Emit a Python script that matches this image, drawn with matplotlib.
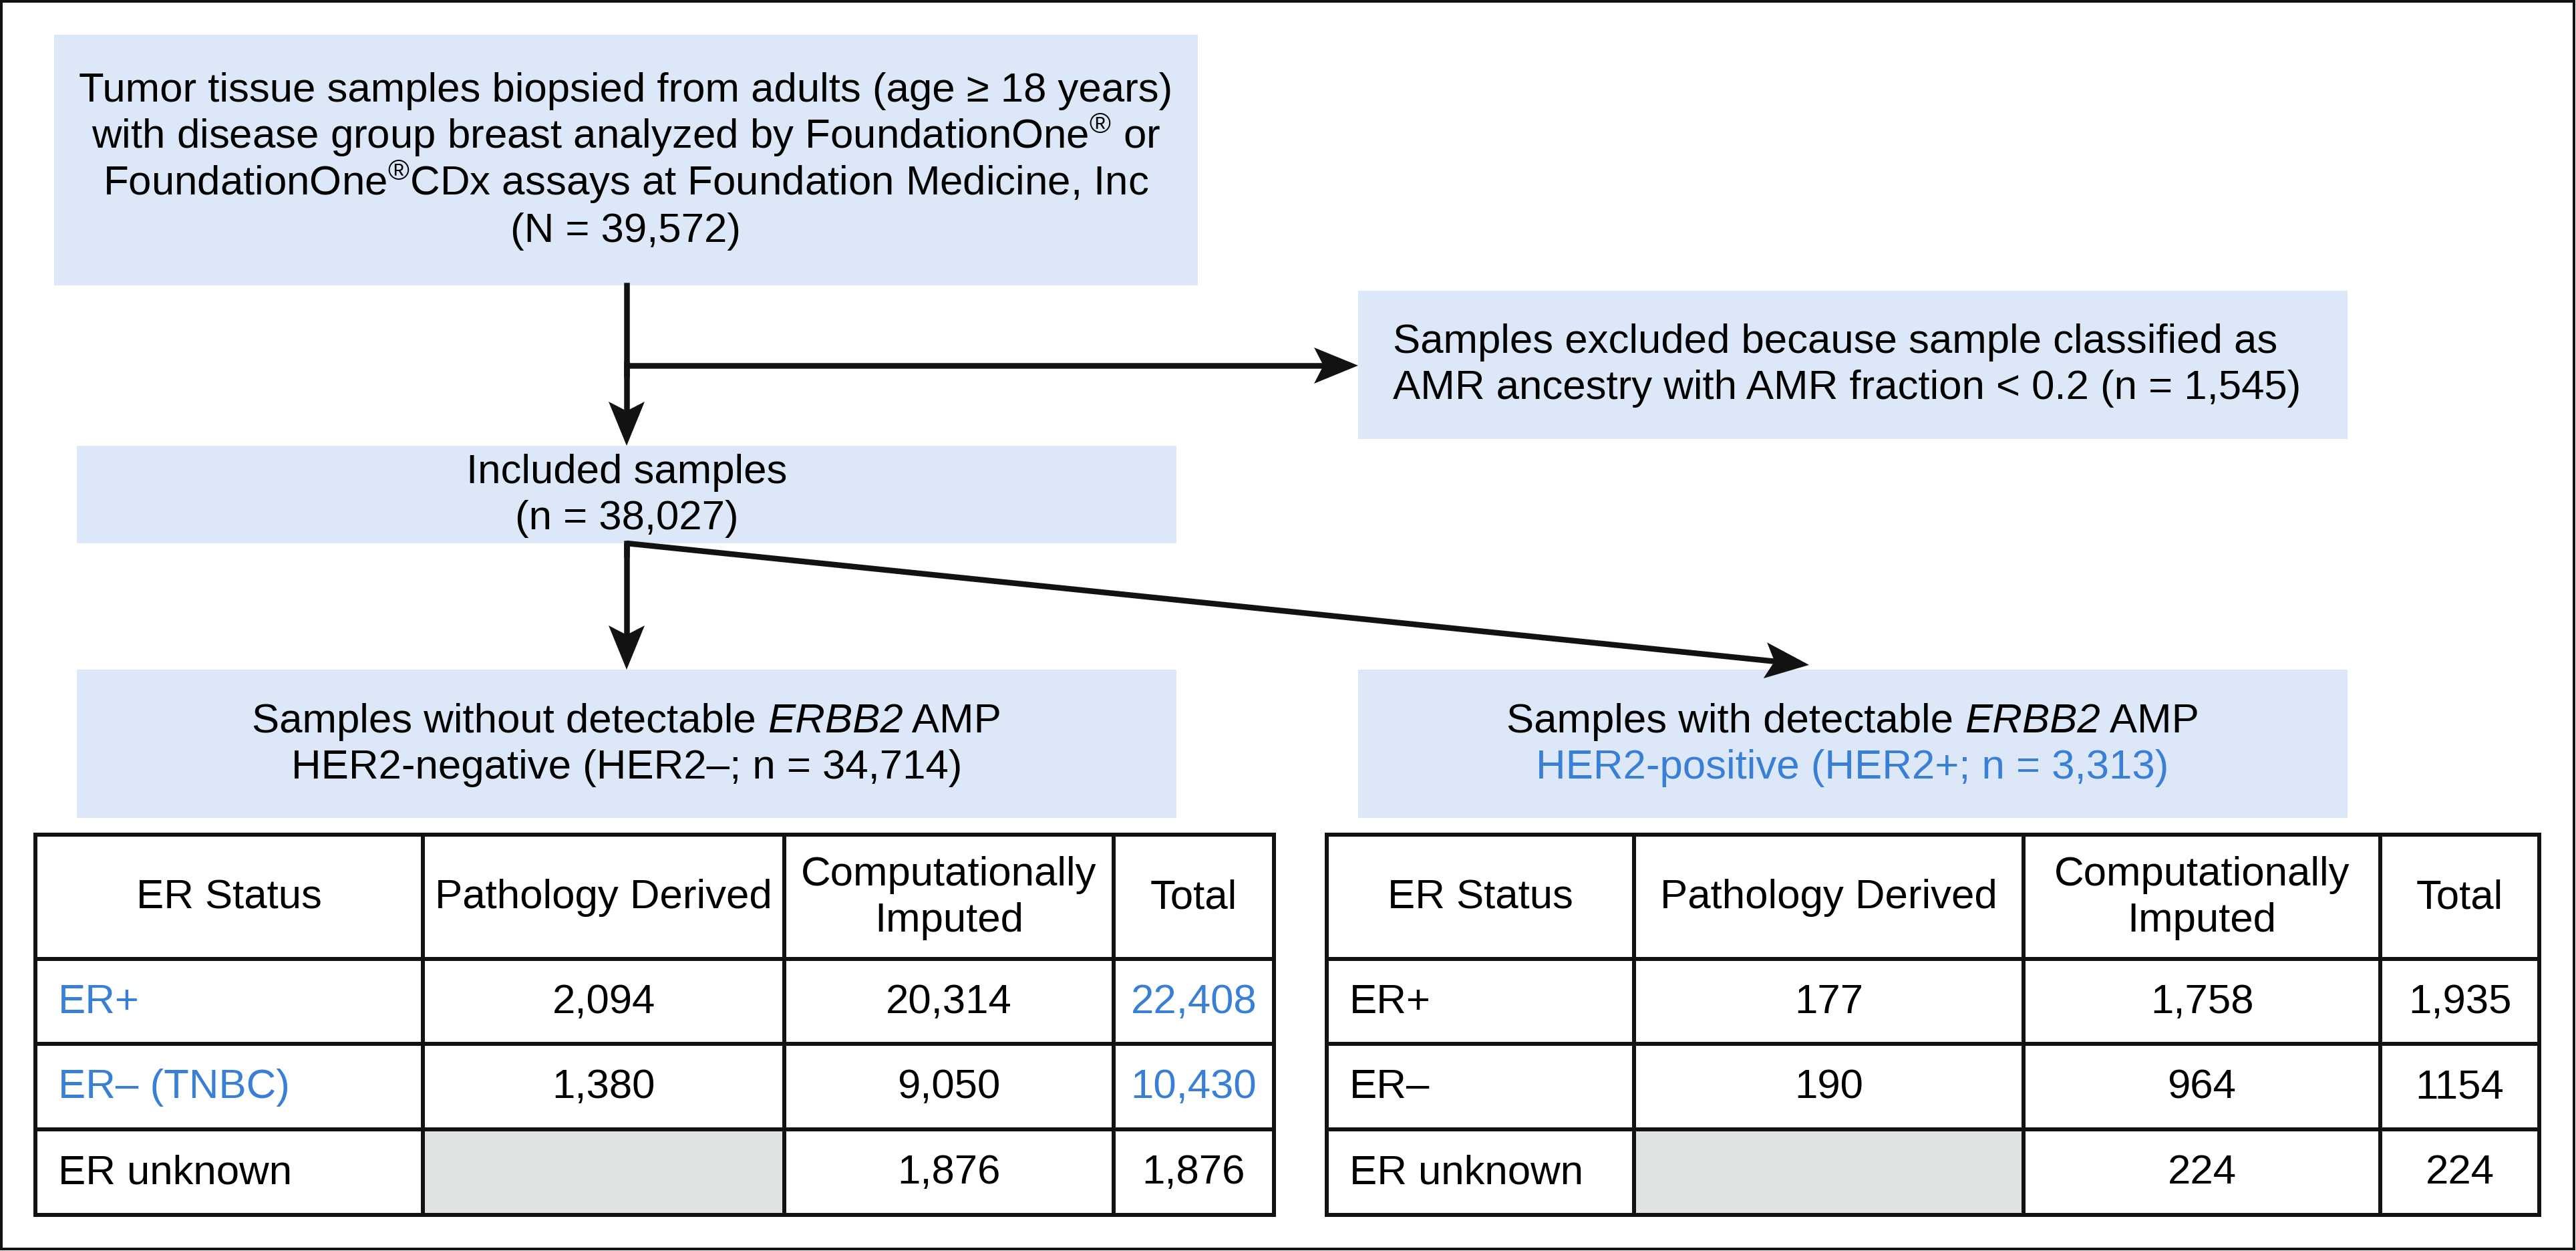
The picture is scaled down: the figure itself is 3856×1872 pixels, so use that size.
#!/usr/bin/env python3
# -*- coding: utf-8 -*-

import numpy as np
import matplotlib
matplotlib.use('Agg')
import matplotlib.pyplot as plt
from matplotlib.patches import Rectangle, Polygon

# --------------------------------------------------------------------------
# data
n_all = '39,572'
n_excluded = '1,545'
n_included = '38,027'
n_her2_neg = '34,714'
n_her2_pos = '3,313'

col_headers = ['ER Status', 'Pathology Derived', 'Computationally\nImputed', 'Total']

neg_status = ['ER+', 'ER\u2013 (TNBC)', 'ER unknown']
neg_path = ['2,094', '1,380', '']
neg_imp = ['20,314', '9,050', '1,876']
neg_total = ['22,408', '10,430', '1,876']

pos_status = ['ER+', 'ER\u2013', 'ER unknown']
pos_path = ['177', '190', '']
pos_imp = ['1,758', '964', '224']
pos_total = ['1,935', '1154', '224']

# --------------------------------------------------------------------------
plt.rcParams['font.family'] = ['Liberation Sans', 'DejaVu Sans']
plt.rcParams['mathtext.fontset'] = 'custom'
plt.rcParams['mathtext.rm'] = 'Liberation Sans'
plt.rcParams['mathtext.it'] = 'Liberation Sans:italic'

W, H = 3856, 1872
PX = 0.72  # points per pixel at dpi 100
FS = 44.5
BOX = '#dce7f8'
BLUE = '#3a7fd6'
GREY = '#dfe4e1'
INK = '#121212'

fig = plt.figure(figsize=(W / 100, H / 100), dpi=100)
ax = fig.add_axes([0, 0, 1, 1])
ax.set_xlim(0, W)
ax.set_ylim(H, 0)
ax.axis('off')
renderer = fig.canvas.get_renderer()

# outer frame
ax.add_patch(Rectangle((2, 2), W - 5, H - 5, fill=False, ec=INK, lw=4 * PX))


def box(x0, y0, x1, y1):
    ax.add_patch(Rectangle((x0, y0), x1 - x0, y1 - y0, fc=BOX, ec='none'))


def arrow(x0, y0, x1, y1, L=66, Wd=54, notch=14):
    d = np.array([x1 - x0, y1 - y0], float)
    u = d / np.hypot(*d)
    n = np.array([-u[1], u[0]])
    tip = np.array([x1, y1], float)
    back = tip - L * u
    inner = tip - (L - notch) * u
    ax.plot([x0, inner[0]], [y0, inner[1]], color=INK, lw=8.5 * PX,
            solid_capstyle='butt')
    ax.add_patch(Polygon([tip, back + n * Wd / 2, inner, back - n * Wd / 2],
                         closed=True, fc=INK, ec='none'))


def width(s, style):
    # measured with a bar glyph so trailing spaces count
    t = ax.text(0, 0, s + '|', fontsize=FS, style=style)
    r = ax.text(0, 0, '|', fontsize=FS, style=style)
    w = t.get_window_extent(renderer).width - r.get_window_extent(renderer).width
    t.remove()
    r.remove()
    return w


def rich(cx, y, parts, color='black'):
    ws = [width(s, st) for s, st in parts]
    x = cx - sum(ws) / 2
    for (s, st), w in zip(parts, ws):
        ax.text(x, y, s, ha='left', va='baseline', fontsize=FS, style=st, color=color)
        x += w


# boxes
box(81, 52, 1793, 427)
box(2033, 435, 3514, 657)
box(115, 667, 1761, 813)
box(115, 1002, 1761, 1224)
box(2033, 1002, 3514, 1224)

# arrows
ax.plot([938, 938], [427, 560], color=INK, lw=8.5 * PX)
arrow(938, 547, 2033, 547)
arrow(938, 540, 938, 667)
ax.plot([938, 938], [813, 830], color=INK, lw=8.5 * PX)
arrow(938, 813, 938, 1002)
arrow(938, 813, 2708, 995)

# box texts
top_lines = ['Tumor tissue samples biopsied from adults (age \u2265 18 years)',
             'with disease group breast analyzed by FoundationOne$^{\\mathrm{\u00ae}}$ or',
             'FoundationOne$^{\\mathrm{\u00ae}}$CDx assays at Foundation Medicine, Inc',
             '(N = %s)' % n_all]
for i, t in enumerate(top_lines):
    ax.text(937, 152 + 70 * i, t, ha='center', va='baseline', fontsize=FS)

ax.text(2085, 528, 'Samples excluded because sample classified as',
        ha='left', va='baseline', fontsize=FS)
ax.text(2085, 597, 'AMR ancestry with AMR fraction < 0.2 (n = %s)' % n_excluded,
        ha='left', va='baseline', fontsize=FS)

ax.text(938, 723, 'Included samples', ha='center', va='baseline', fontsize=FS)
ax.text(938, 792, '(n = %s)' % n_included, ha='center', va='baseline', fontsize=FS)

rich(938, 1096, [('Samples without detectable ', 'normal'), ('ERBB2', 'italic'),
                 (' AMP', 'normal')])
ax.text(938, 1165, 'HER2-negative (HER2\u2013; n = %s)' % n_her2_neg,
        ha='center', va='baseline', fontsize=FS)
rich(2773, 1096, [('Samples with detectable ', 'normal'), ('ERBB2', 'italic'),
                  (' AMP', 'normal')])
ax.text(2773, 1165, 'HER2-positive (HER2+; n = %s)' % n_her2_pos,
        ha='center', va='baseline', fontsize=FS, color=BLUE)

# tables
row_y = [1249, 1435, 1562, 1690, 1818]


def table(cols, status, path, imp, total, blue_rows):
    x0, x1 = cols[0], cols[-1]
    # grey empty cell
    for r, v in enumerate(path):
        if v == '':
            ax.add_patch(Rectangle((cols[1], row_y[r + 1]), cols[2] - cols[1],
                                   row_y[r + 2] - row_y[r + 1], fc=GREY, ec='none'))
    for y in row_y:
        ax.plot([x0 - 3, x1 + 3], [y, y], color=INK, lw=6 * PX, solid_capstyle='butt')
    for x in cols:
        ax.plot([x, x], [row_y[0], row_y[-1]], color=INK, lw=6 * PX,
                solid_capstyle='butt')
    centers = [(cols[i] + cols[i + 1]) / 2 for i in range(4)]
    # header
    for i, h in enumerate(col_headers):
        if '\n' in h:
            a, b = h.split('\n')
            ax.text(centers[i], 1325, a, ha='center', va='baseline', fontsize=FS)
            ax.text(centers[i], 1394, b, ha='center', va='baseline', fontsize=FS)
        else:
            ax.text(centers[i], 1359, h, ha='center', va='baseline', fontsize=FS)
    base = [1516, 1643, 1771]
    for r in range(3):
        c = BLUE if r in blue_rows else 'black'
        ax.text(x0 + 34, base[r], status[r], ha='left', va='baseline',
                fontsize=FS, color=c)
        ax.text(centers[1], base[r], path[r], ha='center', va='baseline', fontsize=FS)
        ax.text(centers[2], base[r], imp[r], ha='center', va='baseline', fontsize=FS)
        ax.text(centers[3], base[r], total[r], ha='center', va='baseline',
                fontsize=FS, color=c)


table([53, 633, 1174, 1667, 1907], neg_status, neg_path, neg_imp, neg_total, [0, 1])
table([1986, 2446, 3029, 3563, 3801], pos_status, pos_path, pos_imp, pos_total, [])

fig.savefig('out.png', dpi=100, facecolor='white')
